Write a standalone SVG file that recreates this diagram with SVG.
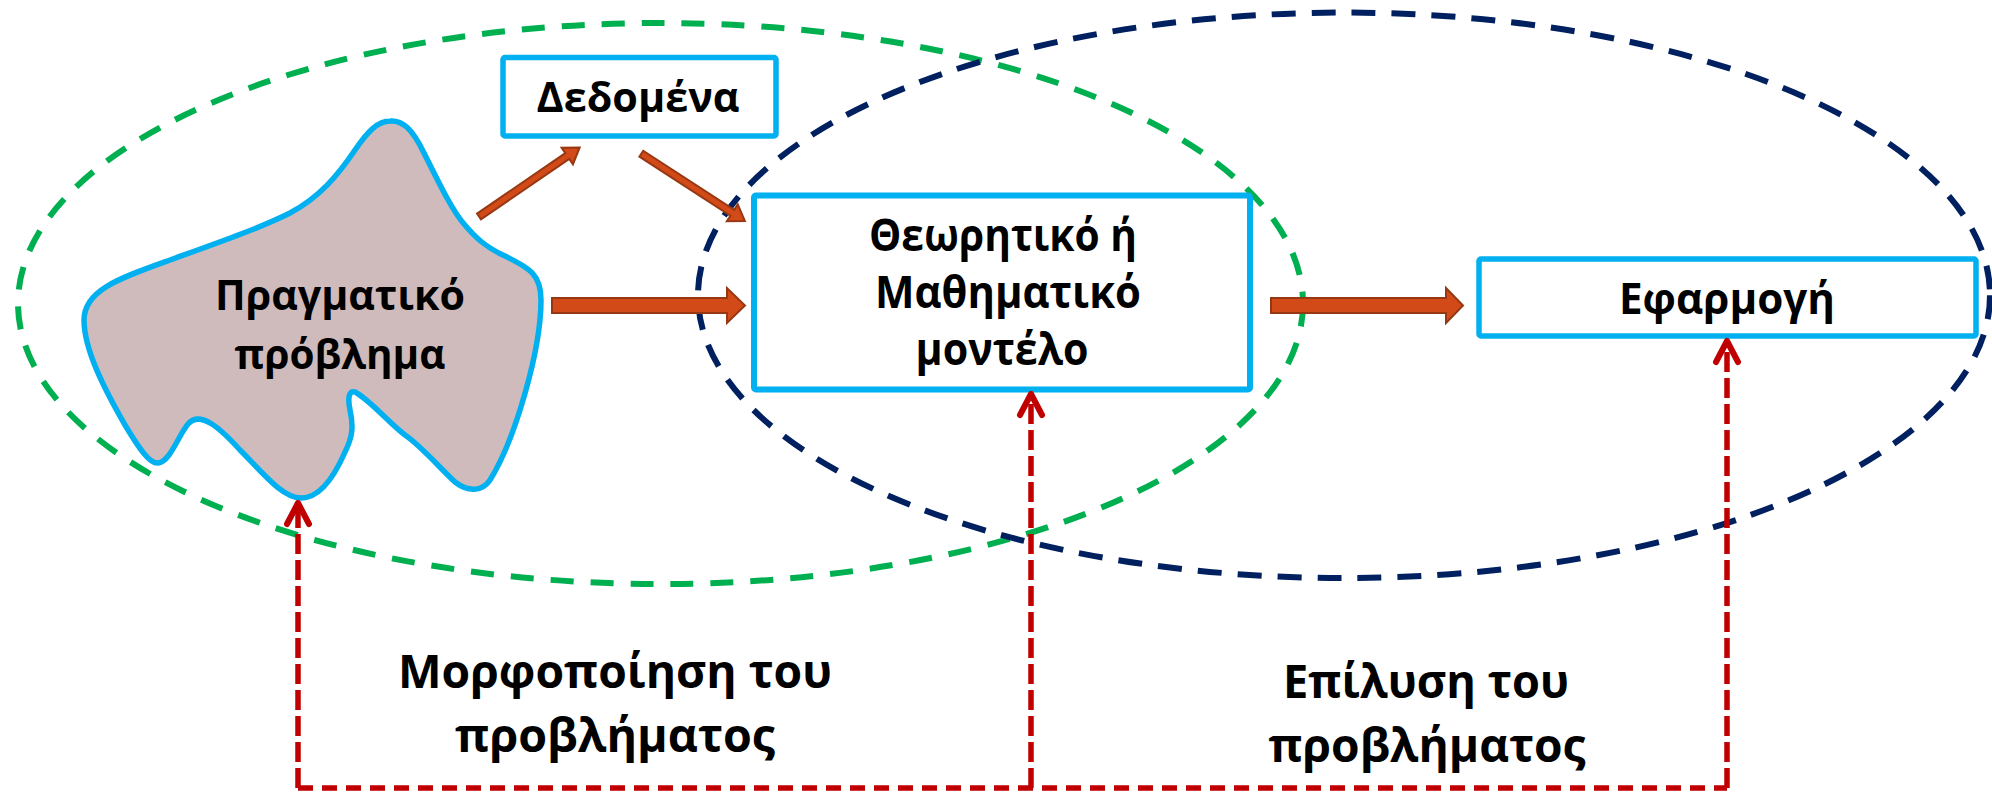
<svg xmlns="http://www.w3.org/2000/svg" width="1992" height="792" viewBox="0 0 1992 792">
<defs>
<style>
.bg{fill:#ffffff}
.ell-g{fill:none;stroke:#00B050;stroke-width:6;stroke-dasharray:23 17}
.ell-n{fill:none;stroke:#002060;stroke-width:6;stroke-dasharray:24 16}
.box{fill:#ffffff;stroke:#00B0F0;stroke-width:5.5}
.cloud{fill:#CFBBBB;stroke:#00B0F0;stroke-width:5.5;stroke-linejoin:round}
.lbl{font-family:"Open Sans","Liberation Sans",Arial,sans-serif;font-weight:bold;fill:#000000;text-anchor:middle}
.blk{fill:#D24A18;stroke:#973812;stroke-width:2;stroke-linejoin:miter}
.red{fill:none;stroke:#C00000;stroke-width:5.5}
.rv{stroke-dasharray:20 6}
.rh{stroke-dasharray:15 9}
</style>
<marker id="chev" viewBox="-30 -15 34 30" markerWidth="34" markerHeight="30" refX="0" refY="0" orient="auto" markerUnits="userSpaceOnUse">
<path d="M -21,-11 L 0,0 L -21,11" fill="none" stroke="#C00000" stroke-width="6" stroke-linecap="round" stroke-linejoin="round"/>
</marker>
</defs>
<rect class="bg" x="0" y="0" width="1992" height="792"/>

<g id="groups">
<ellipse id="green-ellipse" class="ell-g" cx="660.5" cy="303.5" rx="642.5" ry="280.5"/>
<ellipse id="navy-ellipse" class="ell-n" cx="1344" cy="295.3" rx="646" ry="282.7"/>
</g>

<g id="node-real-problem">
<path class="cloud" d="M 390,121 C 402,120 412,128 424,153 C 440,185 452,210 464,224 C 475,237 485,247 505,256 C 530,268 541,275 541,300 C 541,350 515,440 490,480 C 482,492 468,492 455,482 C 440,468 420,445 405,435 C 390,424 370,400 355,392 C 348,390 348,400 350,410 C 354,428 352,438 345,452 C 335,475 320,498 301,498 C 282,498 262,472 240,450 C 220,428 200,410 188,424 C 178,436 170,462 158,463 C 150,464 140,450 125,425 C 105,390 84,350 84,320 C 84,290 120,278 170,260 C 220,242 260,228 290,213 C 320,197 338,175 355,150 C 368,131 378,121 390,121 Z"/>
<text class="lbl" x="340" y="310" font-size="41" textLength="250" lengthAdjust="spacingAndGlyphs">Πραγματικό</text>
<text class="lbl" x="340" y="369" font-size="41" textLength="211" lengthAdjust="spacingAndGlyphs">πρόβλημα</text>
</g>

<g id="node-data">
<rect class="box" x="503" y="57.5" width="273" height="78.5" rx="2"/>
<text class="lbl" x="638" y="112" font-size="42" textLength="203" lengthAdjust="spacingAndGlyphs">Δεδομένα</text>
</g>

<g id="node-model">
<rect class="box" x="754" y="195.5" width="496" height="194" rx="2" style="stroke-width:6"/>
<text class="lbl" x="1003" y="251" font-size="45" textLength="268" lengthAdjust="spacingAndGlyphs">Θεωρητικό ή</text>
<text class="lbl" x="1008" y="308" font-size="45" textLength="266" lengthAdjust="spacingAndGlyphs">Μαθηματικό</text>
<text class="lbl" x="1002" y="365" font-size="45" textLength="173" lengthAdjust="spacingAndGlyphs">μοντέλο</text>
</g>

<g id="node-application">
<rect class="box" x="1479" y="259" width="497" height="77" rx="2"/>
<text class="lbl" x="1727" y="314" font-size="43" textLength="216" lengthAdjust="spacingAndGlyphs">Εφαρμογή</text>
</g>

<g id="connectors">
<polygon class="blk" transform="translate(552,305.5)" points="0,-7.5 175,-7.5 175,-17.5 193,0 175,17.5 175,7.5 0,7.5"/>
<polygon class="blk" transform="translate(1271,305.5)" points="0,-7.5 175,-7.5 175,-17.5 192,0 175,17.5 175,7.5 0,7.5"/>
<polygon class="blk" transform="translate(479,216.5) rotate(-34.4)" points="0,-3.5 107,-3.5 107,-10 122,0 107,10 107,3.5 0,3.5"/>
<polygon class="blk" transform="translate(641.3,153.7) rotate(33)" points="0,-3.5 108.5,-3.5 108.5,-10 123.5,0 108.5,10 108.5,3.5 0,3.5"/>
<path class="red rh" d="M 298,788 L 1727,788"/>
<path class="red rv" d="M 298,788 L 298,503" marker-end="url(#chev)"/>
<path class="red rv" d="M 1031,788 L 1031,394" marker-end="url(#chev)"/>
<path class="red rv" d="M 1727,788 L 1727,341" marker-end="url(#chev)"/>
</g>

<g id="labels">
<text class="lbl" x="615" y="688" font-size="46" textLength="434" lengthAdjust="spacingAndGlyphs">Μορφοποίηση του</text>
<text class="lbl" x="615" y="752" font-size="46" textLength="320" lengthAdjust="spacingAndGlyphs">προβλήματος</text>
<text class="lbl" x="1426" y="698" font-size="46" textLength="286" lengthAdjust="spacingAndGlyphs">Επίλυση του</text>
<text class="lbl" x="1427" y="762" font-size="46" textLength="317" lengthAdjust="spacingAndGlyphs">προβλήματος</text>
</g>
</svg>
